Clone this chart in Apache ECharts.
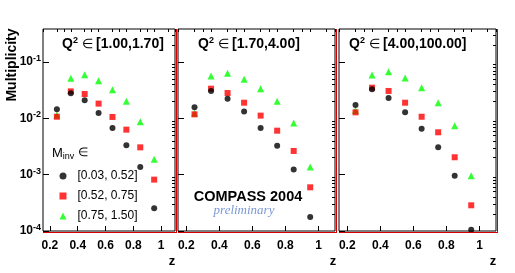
<!DOCTYPE html>
<html><head><meta charset="utf-8">
<script src="https://cdn.jsdelivr.net/npm/echarts@6/dist/echarts.min.js"></script>
<style>html,body{margin:0;padding:0;background:#fff}#c{width:515px;height:273px}</style>
</head><body><div id="c"></div>
<script>
const zValues = [0.25, 0.35, 0.45, 0.55, 0.65, 0.75, 0.85, 0.95];
const q2Bins = ['[1.00,1.70]', '[1.70,4.00]', '[4.00,100.00]'];
const minvBins = ['[0.03, 0.52]', '[0.52, 0.75]', '[0.75, 1.50]'];
// Q2 in [1.00,1.70]
const p1Low  = [0.0145, 0.0279, 0.0210, 0.0125, 0.00675, 0.00333, 0.00137, 0.000253];
const p1Mid  = [0.0107, 0.0302, 0.0271, 0.0183, 0.0106, 0.00631, 0.00306, 0.000817];
const p1High = [0.0115, 0.0515, 0.0597, 0.0468, 0.0324, 0.0201, 0.00875, 0.00188];
// Q2 in [1.70,4.00]
const p2Low  = [0.0157, 0.0307, 0.0224, 0.0132, 0.00675, 0.00327, 0.00124, 0.000177];
const p2Mid  = [0.0118, 0.0337, 0.0282, 0.0190, 0.0112, 0.00605, 0.00264, 0.000597];
const p2High = [0.0123, 0.0566, 0.0632, 0.0494, 0.0337, 0.0201, 0.00828, 0.00137];
// Q2 in [4.00,100.00]
const p3Low  = [0.0173, 0.0329, 0.0230, 0.0128, 0.00656, 0.00306, 0.000959, 0.000105];
const p3Mid  = [0.0128, 0.0351, 0.0307, 0.0190, 0.0107, 0.00566, 0.00204, 0.000286];
const p3High = [0.0138, 0.0590, 0.0676, 0.0522, 0.0351, 0.0190, 0.00741, 0.000959];

const xMajorTicks = [0.2, 0.4, 0.6, 0.8, 1.0];
const xMinorTicks = [0.15, 0.25, 0.3, 0.35, 0.45, 0.5, 0.55, 0.65, 0.7, 0.75, 0.85, 0.9, 0.95, 1.05, 1.1];
const yMajorTicks = [1e-4, 1e-3, 1e-2, 1e-1];
const yMinorTicks = [2e-4, 3e-4, 4e-4, 5e-4, 6e-4, 7e-4, 8e-4, 9e-4,
                     2e-3, 3e-3, 4e-3, 5e-3, 6e-3, 7e-3, 8e-3, 9e-3,
                     2e-2, 3e-2, 4e-2, 5e-2, 6e-2, 7e-2, 8e-2, 9e-2,
                     2e-1, 3e-1];

const panels = [
  {low: p1Low, mid: p1Mid, high: p1High},
  {low: p2Low, mid: p2Mid, high: p2High},
  {low: p3Low, mid: p3Mid, high: p3High}
];

const FONT = 'Liberation Sans, Helvetica, Arial, sans-serif';
const gridBoxes = [
  {left: 43, top: 29, width: 132, height: 202},
  {left: 178, top: 29, width: 157, height: 202},
  {left: 339, top: 29, width: 157, height: 202}
];
const XMIN = 0.15, XMAX = 1.1, YMIN = 1e-4, YMAX = 0.387;

const grid = [], xAxis = [], yAxis = [], series = [];
gridBoxes.forEach((g, i) => {
  grid.push(Object.assign({show: true, borderColor: '#000', borderWidth: 1, backgroundColor: '#fff'}, g));
  xAxis.push({
    type: 'value', gridIndex: i, min: XMIN, max: XMAX,
    axisLine: {show: false}, splitLine: {show: false},
    axisTick: {show: true, inside: true, length: 5, customValues: xMajorTicks, lineStyle: {color: '#000'}},
    axisLabel: {show: true, customValues: xMajorTicks, margin: 9, color: '#000', fontSize: 12, fontWeight: 'bold', fontFamily: FONT,
      formatter: v => (Math.abs(v - 1) < 1e-9 ? '1' : v.toFixed(1))}
  });
  xAxis.push({
    type: 'value', gridIndex: i, min: XMIN, max: XMAX,
    axisLine: {show: false}, splitLine: {show: false}, axisLabel: {show: false},
    axisTick: {show: true, inside: true, length: 3, customValues: xMinorTicks, lineStyle: {color: '#000'}}
  });
  yAxis.push({
    type: 'log', logBase: 10, gridIndex: i, min: YMIN, max: YMAX,
    axisLine: {show: false}, splitLine: {show: false},
    axisTick: {show: true, inside: true, length: 6, customValues: yMajorTicks, lineStyle: {color: '#000'}},
    axisLabel: {show: i === 0, customValues: yMajorTicks, margin: 2, color: '#000', fontFamily: FONT,
      formatter: v => '{b|10}{s|' + Math.round(Math.log10(v)) + '}',
      rich: {
        b: {fontSize: 12, fontWeight: 'bold', fontFamily: FONT, color: '#000'},
        s: {fontSize: 9, fontWeight: 'bold', fontFamily: FONT, color: '#000', padding: [0, 0, 7, 0]}
      }}
  });
  yAxis.push({
    type: 'log', logBase: 10, gridIndex: i, min: YMIN, max: YMAX,
    axisLine: {show: false}, splitLine: {show: false}, axisLabel: {show: false},
    axisTick: {show: true, inside: true, length: 3, customValues: yMinorTicks, lineStyle: {color: '#000'}}
  });
  const p = panels[i];
  const defs = [
    {name: minvBins[0], vals: p.low, symbol: 'circle', size: 6, color: '#000000'},
    {name: minvBins[1], vals: p.mid, symbol: 'rect', size: 6, color: '#ff0000'},
    {name: minvBins[2], vals: p.high, symbol: 'triangle', size: 7, color: '#00ff00'}
  ];
  [2, 1, 0].forEach(k => {
    const d = defs[k];
    series.push({
      type: 'scatter', name: d.name, xAxisIndex: 2 * i, yAxisIndex: 2 * i,
      symbol: d.symbol, symbolSize: d.size, itemStyle: {color: d.color}, clip: true,
      data: zValues.map((z, j) => [z, d.vals[j]]), emphasis: {disabled: true}, z: 3
    });
  });
});

const titleRich = {
  q: {fontSize: 14, fontWeight: 'bold', fontFamily: FONT, color: '#000'},
  s: {fontSize: 9, fontWeight: 'bold', fontFamily: FONT, color: '#000', padding: [0, 0, 7, 0]},
  e: {fontSize: 13, fontFamily: FONT, color: '#000'},
  t: {fontSize: 14, fontWeight: 'bold', fontFamily: FONT, color: '#000'}
};
const titleX = [62, 198, 349];
const graphic = [];
q2Bins.forEach((b, i) => {
  graphic.push({type: 'text', x: titleX[i], y: 44, z: 10,
    style: {text: '{q|Q}{s|2}{e| \u2208 }{t|' + b + '}', rich: titleRich, align: 'left', verticalAlign: 'middle', fill: '#000'}});
});
// red pad-edge lines
gridBoxes.forEach(g => {
  graphic.push({type: 'line', z: 10, shape: {x1: g.left + g.width + 1.5, y1: g.top, x2: g.left + g.width + 1.5, y2: g.top + g.height + 2},
    style: {stroke: '#d40000', lineWidth: 1}});
  graphic.push({type: 'line', z: 10, shape: {x1: g.left, y1: g.top + g.height + 1.5, x2: g.left + g.width + 2, y2: g.top + g.height + 1.5},
    style: {stroke: '#d40000', lineWidth: 1}});
});
graphic.push({type: 'text', x: 12, y: 65, rotation: Math.PI / 2, z: 10,
  style: {text: 'Multiplicity', fontSize: 14, fontWeight: 'bold', fontFamily: FONT, fill: '#000', align: 'center', verticalAlign: 'middle'}});
[172, 333, 493].forEach(x => {
  graphic.push({type: 'text', x: x, y: 261, z: 10,
    style: {text: 'z', fontSize: 13, fontWeight: 'bold', fontFamily: FONT, fill: '#000', align: 'center', verticalAlign: 'middle'}});
});
graphic.push({type: 'text', x: 52, y: 153, z: 10,
  style: {text: '{m|M}{i|inv}{e| \u2208}', align: 'left', verticalAlign: 'middle',
    rich: {
      m: {fontSize: 13, fontFamily: FONT, color: '#000'},
      i: {fontSize: 9, fontFamily: FONT, color: '#000', padding: [7, 0, 0, 0]},
      e: {fontSize: 12, fontFamily: FONT, color: '#000'}
    }}});
graphic.push({type: 'text', x: 248, y: 197, z: 10,
  style: {text: 'COMPASS 2004', fontSize: 14.5, fontWeight: 'bold', fontFamily: FONT, fill: '#000', align: 'center', verticalAlign: 'middle'}});
graphic.push({type: 'text', x: 244, y: 211, z: 10,
  style: {text: 'preliminary', fontSize: 13, fontStyle: 'italic', fontFamily: 'Liberation Serif, Times New Roman, serif', fill: '#7b98d4', align: 'center', verticalAlign: 'middle'}});

const chart = echarts.init(document.getElementById('c'), null, {renderer: 'canvas'});
chart.setOption({
  animation: false,
  backgroundColor: '#fff',
  grid, xAxis, yAxis, series, graphic,
  legend: {
    show: true, orient: 'vertical', left: 59.5, top: 170, padding: 0,
    itemWidth: 7, itemHeight: 7, itemGap: 8, selectedMode: false,
    data: [{name: minvBins[0], icon: 'circle'}, {name: minvBins[1], icon: 'rect'}, {name: minvBins[2], icon: 'triangle'}],
    textStyle: {fontSize: 12, fontFamily: FONT, color: '#000', padding: [0, 0, 0, 6]}
  }
});
</script>
</body></html>
